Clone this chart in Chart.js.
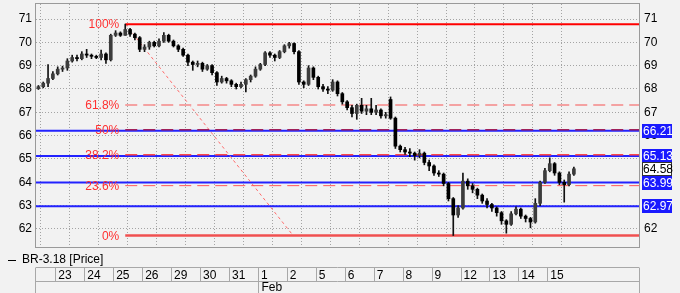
<!DOCTYPE html>
<html>
<head>
<meta charset="utf-8">
<script src="https://cdn.jsdelivr.net/npm/chart.js@4.4.1/dist/chart.umd.min.js"></script>
<style>
  html, body { margin: 0; padding: 0; background: #f2f2f2; }
  #wrap { width: 680px; height: 293px; }
</style>
</head>
<body>
<div id="wrap"><canvas id="chart" width="680" height="293"></canvas></div>
<script>
// trading days shown on the date row (first partial day is 22 Jan)
const dayLabels = ["23", "24", "25", "26", "29", "30", "31", "1", "2", "5", "6", "7", "8", "9", "12", "13", "14", "15"];
const monthLabel = "Feb";
const monthStartDay = 7; // index in dayLabels where Feb starts
const perDay = 6;        // bars per day
const leadBars = 4;      // bars of the partial first day

// OHLC, one value per bar
const open = [
  68.02, 68.10, 68.25, 68.45,
  68.65, 68.85, 68.90, 69.20, 69.35, 69.30,
  69.50, 69.45, 69.40, 69.35, 69.50, 69.25,
  70.30, 70.40, 70.30, 70.55, 70.35, 70.20,
  69.70, 69.80, 70.00, 69.85, 70.05, 70.30,
  70.05, 69.85, 69.70, 69.45, 69.15, 69.05,
  69.10, 68.85, 69.00, 68.70, 68.30, 68.45,
  68.35, 68.20, 68.10, 68.20, 68.40, 68.55,
  68.85, 69.05, 69.55, 69.45, 69.35, 69.60,
  69.85, 69.95, 69.60, 68.30, 68.20, 68.90,
  68.50, 68.10, 68.00, 67.95, 68.30, 67.80,
  67.45, 67.20, 66.95, 67.30, 67.05, 67.15,
  67.00, 67.10, 66.85, 67.55, 66.75, 65.55,
  65.40, 65.30, 65.25, 65.15, 65.25, 64.85,
  64.70, 64.40, 64.35, 63.95, 63.30, 62.60,
  62.90, 64.05, 63.85, 63.70, 63.45, 63.20,
  63.05, 62.90, 62.70, 62.35, 62.20, 62.65,
  62.85, 62.55, 62.45, 62.30, 63.10, 64.00,
  64.50, 64.80, 64.40, 64.00, 63.90, 64.35
];
const high = [
  68.15, 68.30, 69.05, 68.75,
  68.95, 68.98, 69.30, 69.45, 69.45, 69.60,
  69.70, 69.50, 69.45, 69.67, 69.55, 70.35,
  70.50, 70.45, 70.78, 70.60, 70.40, 70.25,
  69.90, 70.05, 70.05, 70.15, 70.42, 70.35,
  70.10, 69.90, 69.75, 69.50, 69.20, 69.20,
  69.15, 69.05, 69.05, 68.75, 68.55, 68.50,
  68.40, 68.25, 68.30, 68.45, 68.60, 68.95,
  69.10, 69.60, 69.60, 69.50, 69.65, 69.90,
  70.00, 69.98, 69.65, 68.35, 69.00, 68.95,
  68.55, 68.20, 68.10, 68.40, 68.35, 67.85,
  67.50, 67.30, 67.35, 67.60, 67.30, 67.60,
  67.30, 67.15, 67.00, 67.66, 66.80, 65.60,
  65.50, 65.45, 65.30, 65.40, 65.30, 64.95,
  64.75, 64.50, 64.40, 64.00, 63.35, 63.00,
  64.40, 64.15, 63.95, 63.75, 63.50, 63.30,
  63.10, 62.95, 62.75, 62.40, 62.75, 62.95,
  62.90, 62.60, 62.50, 63.30, 64.05, 64.60,
  65.05, 64.85, 64.45, 64.10, 64.45, 64.65
];
const low = [
  67.98, 68.05, 68.10, 68.40,
  68.60, 68.75, 68.80, 69.15, 69.20, 69.25,
  69.35, 69.30, 69.30, 69.25, 69.10, 69.20,
  70.25, 70.25, 70.30, 70.25, 70.10, 69.60,
  69.60, 69.70, 69.80, 69.80, 70.00, 70.00,
  69.80, 69.60, 69.40, 69.00, 68.80, 68.95,
  68.75, 68.80, 68.60, 68.15, 68.25, 68.25,
  68.10, 68.00, 68.05, 67.88, 68.30, 68.50,
  68.80, 69.00, 69.35, 69.20, 69.30, 69.55,
  69.75, 69.50, 68.20, 68.05, 68.15, 68.40,
  68.00, 67.90, 67.80, 67.90, 67.70, 67.35,
  67.10, 66.80, 66.70, 66.95, 66.90, 66.90,
  66.90, 66.75, 66.75, 66.70, 65.45, 65.30,
  65.20, 65.10, 64.95, 65.05, 64.75, 64.50,
  64.30, 64.25, 63.85, 63.20, 61.72, 62.50,
  62.85, 63.70, 63.55, 63.30, 63.10, 62.90,
  62.75, 62.55, 62.20, 61.82, 62.15, 62.60,
  62.45, 62.30, 62.05, 62.25, 63.00, 63.95,
  64.45, 64.30, 63.90, 63.15, 63.85, 64.30
];
const close = [
  68.10, 68.25, 68.45, 68.65,
  68.85, 68.90, 69.20, 69.35, 69.30, 69.50,
  69.45, 69.40, 69.35, 69.50, 69.25, 70.30,
  70.40, 70.30, 70.55, 70.35, 70.20, 69.70,
  69.80, 70.00, 69.85, 70.05, 70.30, 70.05,
  69.85, 69.70, 69.45, 69.15, 69.05, 69.10,
  68.85, 69.00, 68.70, 68.30, 68.45, 68.35,
  68.20, 68.10, 68.20, 68.40, 68.55, 68.85,
  69.05, 69.55, 69.45, 69.35, 69.60, 69.85,
  69.95, 69.60, 68.30, 68.20, 68.90, 68.50,
  68.10, 68.00, 67.95, 68.30, 67.80, 67.45,
  67.20, 66.95, 67.30, 67.05, 67.15, 67.00,
  67.10, 66.85, 66.90, 66.75, 65.55, 65.40,
  65.30, 65.25, 65.15, 65.25, 64.85, 64.70,
  64.40, 64.35, 63.95, 63.30, 62.60, 62.90,
  64.05, 63.85, 63.70, 63.45, 63.20, 63.05,
  62.90, 62.70, 62.35, 62.20, 62.65, 62.85,
  62.55, 62.45, 62.30, 63.10, 64.00, 64.50,
  64.80, 64.40, 64.00, 63.90, 64.35, 64.58
];

// Fibonacci retracement drawn from the top bar to the bottom
const fibHigh = 70.78;
const fibLow = 61.72;
const fibStartBar = 18;       // bar index of the top
const fibDiagEnd = 49.3;      // x (bar units) where the dashed diagonal reaches the low
const fibLevels = [1, 0.618, 0.5, 0.382, 0.236, 0];
const fibNames = ["100%", "61.8%", "50%", "38.2%", "23.6%", "0%"];
const fibColors = ["#ff0000", "#f4a2a2", "#a0205a", "#ff4848", "#ff5a5a", "#f05050"];
const fibWidths = [2, 2, 1.5, 1.5, 1, 2.5];
const fibDash = [[], [12, 6], [12, 6], [12, 6], [12, 6], []];

// horizontal blue levels and last price
const levelLines = [66.21, 65.13, 63.99, 62.97];
const lastPrice = 64.58;

const yTicks = [62, 63, 64, 65, 66, 67, 68, 69, 70, 71];
const xMin = -leadBars, xMax = 121;
const yMin = 61.228, yMax = 71.643;

const font = '"Liberation Sans", Arial, sans-serif';
Chart.defaults.font.family = font;
Chart.defaults.font.size = 12;
Chart.defaults.color = "#000";

const barX = (i) => i - leadBars + 0.5;
const wicks = low.map((l, i) => ({ x: barX(i), y: [l, high[i]] }));
const bodies = open.map((o, i) => ({ x: barX(i), y: [o, close[i]] }));
const bodyColors = open.map((o, i) => (close[i] >= o ? "#3c3c3c" : "#000000"));

const datasets = [
  {
    type: "bar", data: bodies, backgroundColor: bodyColors,
    barThickness: 3, minBarLength: 1, grouped: false, order: 0
  },
  {
    type: "bar", data: wicks, backgroundColor: "#111",
    barThickness: 1, grouped: false, order: 1
  }
];
fibLevels.forEach((f, k) => {
  const v = fibLow + f * (fibHigh - fibLow);
  datasets.push({
    type: "line", data: [{ x: barX(fibStartBar), y: v }, { x: xMax, y: v }],
    borderColor: fibColors[k], borderWidth: fibWidths[k], borderDash: fibDash[k],
    pointRadius: 0, order: 4
  });
});
levelLines.forEach((v) => {
  datasets.push({
    type: "line", data: [{ x: xMin, y: v }, { x: xMax, y: v }],
    borderColor: "#2222ff", borderWidth: 2, pointRadius: 0, order: 5
  });
});
datasets.push({
  type: "line", data: [{ x: barX(fibStartBar), y: fibHigh }, { x: fibDiagEnd, y: fibLow }],
  borderColor: "#ff6a6a", borderWidth: 1, borderDash: [3, 3], pointRadius: 0, order: 4
});

const setYTicks = (scale) => { scale.ticks = yTicks.map((v) => ({ value: v })); };
const fitY = (w) => (s) => { s.width = w; s.paddingTop = 0; s.paddingBottom = 0; };

const decorations = {
  id: "decorations",
  beforeDatasetsDraw(chart) {
    const { ctx, chartArea: a } = chart;
    ctx.save();
    ctx.strokeStyle = "#9a9a9a";
    ctx.lineWidth = 1;
    ctx.strokeRect(a.left - 0.5, a.top - 0.5, a.right - a.left + 1, a.bottom - a.top + 1);
    ctx.restore();
  },
  afterDraw(chart) {
    const { ctx, chartArea: a } = chart;
    const xs = chart.scales.x, ys = chart.scales.y;
    ctx.save();
    ctx.font = "12px " + font;
    ctx.textBaseline = "middle";

    // fib labels
    ctx.textAlign = "right";
    fibLevels.forEach((f, k) => {
      const v = fibLow + f * (fibHigh - fibLow);
      ctx.fillStyle = "#ff3030";
      ctx.fillText(fibNames[k], xs.getPixelForValue(barX(fibStartBar)) - 6, ys.getPixelForValue(v) + 1);
    });

    // right value boxes
    ctx.textAlign = "left";
    levelLines.forEach((v) => {
      const y = Math.round(ys.getPixelForValue(v));
      ctx.fillStyle = "#1a1aff";
      ctx.fillRect(a.right + 3, y - 7, 30, 14);
      ctx.fillStyle = "#fff";
      ctx.fillText(v.toFixed(2), a.right + 4, y + 1);
    });
    const yp = Math.round(ys.getPixelForValue(lastPrice));
    ctx.fillStyle = "#fff";
    ctx.fillRect(a.right + 3, yp - 7, 30, 14);
    ctx.strokeStyle = "#333";
    ctx.strokeRect(a.right + 3.5, yp - 6.5, 29, 13);
    ctx.fillStyle = "#000";
    ctx.fillText(lastPrice.toFixed(2), a.right + 4, yp + 1);

    // legend
    ctx.strokeStyle = "#000";
    ctx.beginPath();
    ctx.moveTo(8, 260.5); ctx.lineTo(16, 260.5);
    ctx.stroke();
    ctx.fillText("BR-3.18 [Price]", 22, 260);

    // date rows
    const r1 = 267.5, r2 = 281.5, r3 = 293;
    ctx.strokeStyle = "#a8a8a8";
    ctx.beginPath();
    ctx.moveTo(a.left, r1); ctx.lineTo(a.right, r1);
    ctx.moveTo(a.left, r2); ctx.lineTo(a.right, r2);
    ctx.moveTo(a.left - 0.5, r1); ctx.lineTo(a.left - 0.5, r3);
    ctx.moveTo(a.right + 0.5, r1); ctx.lineTo(a.right + 0.5, r3);
    dayLabels.forEach((d, k) => {
      const x = Math.round(xs.getPixelForValue(k * perDay)) + 0.5;
      ctx.moveTo(x, r1); ctx.lineTo(x, r2);
    });
    const mx = Math.round(xs.getPixelForValue(monthStartDay * perDay)) + 0.5;
    ctx.moveTo(mx, r2); ctx.lineTo(mx, r3);
    ctx.stroke();
    ctx.fillStyle = "#000";
    dayLabels.forEach((d, k) => {
      ctx.fillText(d, xs.getPixelForValue(k * perDay) + 3, (r1 + r2) / 2 + 1);
    });
    ctx.fillText(monthLabel, mx + 3, 288);
    ctx.restore();
  }
};

new Chart(document.getElementById("chart"), {
  type: "bar",
  data: { datasets },
  options: {
    responsive: false,
    animation: false,
    devicePixelRatio: 1,
    events: [],
    layout: { padding: { top: 4, left: 0, right: 0, bottom: 0 } },
    plugins: { legend: { display: false }, tooltip: { enabled: false } },
    scales: {
      x: {
        type: "linear", min: xMin, max: xMax, offset: false,
        afterBuildTicks: (s) => { s.ticks = dayLabels.map((_, k) => ({ value: k * perDay })); },
        afterFit: (s) => { s.height = 46; s.paddingLeft = 0; s.paddingRight = 0; },
        ticks: { display: false, autoSkip: false },
        grid: { color: "#a4a4a4", drawTicks: false },
        border: { display: false, dash: [1, 2] }
      },
      y: {
        position: "left", min: yMin, max: yMax,
        afterBuildTicks: setYTicks,
        afterFit: fitY(36),
        ticks: { padding: 4, callback: (v) => v },
        grid: { color: "#a4a4a4", drawTicks: false },
        border: { display: false, dash: [1, 2] }
      },
      y2: {
        position: "right", min: yMin, max: yMax,
        afterBuildTicks: setYTicks,
        afterFit: fitY(41),
        ticks: { padding: 5, callback: (v) => v },
        grid: { display: false, drawTicks: false },
        border: { display: false }
      }
    }
  },
  plugins: [decorations]
});
</script>
</body>
</html>
